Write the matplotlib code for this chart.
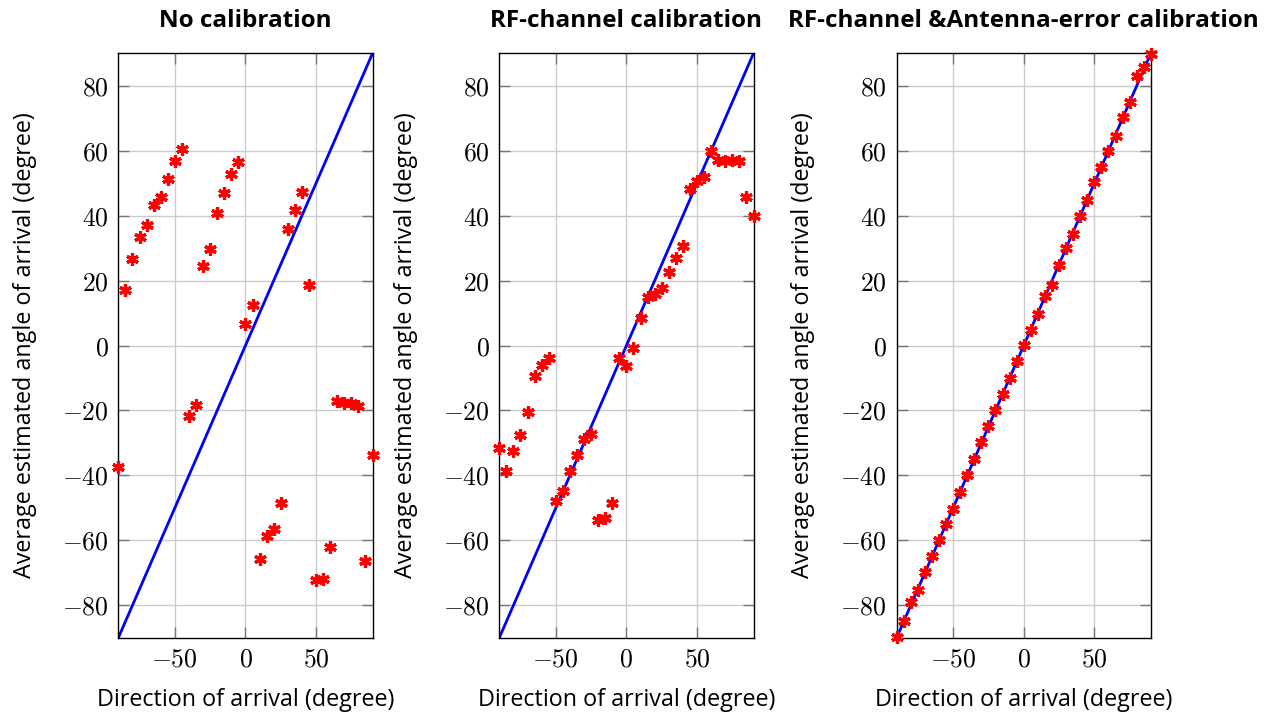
import matplotlib
matplotlib.use("Agg")
import matplotlib.pyplot as plt
from matplotlib.ticker import FuncFormatter, FixedLocator

plt.rcParams['mathtext.fontset'] = 'cm'
plt.rcParams['font.family'] = ['Open Sans', 'DejaVu Sans']

doa = [-90, -85, -80, -75, -70, -65, -60, -55, -50, -45, -40, -35, -30, -25, -20,
       -15, -10, -5, 0, 5, 10, 15, 20, 25, 30, 35, 40, 45, 50, 55, 60, 65, 70, 75,
       80, 85, 90]

est_none = [-37.4, 17.1, 26.6, 33.4, 37.1, 43.3, 45.8, 51.2, 56.8, 60.5, -21.7, -18.2,
            24.5, 29.6, 40.9, 46.9, 52.7, 56.4, 6.7, 12.5, -65.6, -58.5, -56.6, -48.6,
            35.8, 41.7, 47.3, 18.8, -72.2, -71.8, -61.9, -17.1, -17.6, -17.8, -18.5,
            -66.5, -33.7]

est_rf = [-31.7, -38.6, -32.4, -27.6, -20.5, -9.4, -6.1, -3.7, -48.0, -44.7, -38.6,
          -33.7, -28.7, -27.3, -53.7, -53.2, -48.6, -3.7, -6.3, -0.6, 8.4, 15.1, 15.8,
          17.7, 22.5, 27.0, 30.8, 48.2, 50.8, 51.8, 59.9, 57.1, 56.9, 57.1, 56.7, 45.8,
          39.9]

est_full = [-89.8, -84.8, -79.1, -75.3, -69.8, -64.9, -59.9, -55.1, -50.3, -45.1, -39.9,
            -34.8, -29.7, -24.9, -19.9, -14.8, -9.9, -4.7, 0.2, 4.7, 9.8, 15.4, 18.7,
            24.8, 29.9, 34.4, 39.8, 44.8, 50.4, 55.0, 59.9, 64.4, 70.5, 75.1, 83.1, 85.9,
            89.7]

ref_x = [-90, 90]
ref_y = [-90, 90]

titles = ["No calibration", "RF-channel calibration",
          "RF-channel &Antenna-error calibration"]
xlabel = "Direction of arrival (degree)"
ylabel = "Average estimated angle of arrival (degree)"
xticks = [-50, 0, 50]
yticks = [-80, -60, -40, -20, 0, 20, 40, 60, 80]

fig = plt.figure(figsize=(12.78, 7.13), dpi=100)
lefts = [0.0926, 0.3907, 0.7016]
series = [est_none, est_rf, est_full]

fmt = FuncFormatter(lambda v, p: r"$%d$" % v if v >= 0 else r"$-%d$" % (-v))

for left, title, est in zip(lefts, titles, series):
    ax = fig.add_axes([left, 0.1055, 0.1989, 0.8197])
    ax.plot(ref_x, ref_y, color='#0000ff', lw=2.0, zorder=2, clip_on=True)
    ax.plot(doa, est, linestyle='none', marker=(6, 2, 0), markersize=9,
            markeredgewidth=2.3, color='#ff0000', zorder=3, clip_on=False)
    ax.set_xlim(-90, 90)
    ax.set_ylim(-90, 90)
    ax.xaxis.set_major_locator(FixedLocator(xticks))
    ax.yaxis.set_major_locator(FixedLocator(yticks))
    ax.xaxis.set_major_formatter(fmt)
    ax.yaxis.set_major_formatter(fmt)
    ax.grid(True, color='#cccccc', lw=1.0, zorder=0)
    ax.set_axisbelow(True)
    ax.tick_params(direction='in', length=8, width=1.0, color='#777777',
                   top=True, right=True, labelsize=18.5, pad=7)
    for s in ax.spines.values():
        s.set_linewidth(1.0)
        s.set_color('black')
    ax.set_title(title, fontsize=17.5, fontweight='bold', pad=19)
    ax.set_xlabel(xlabel, fontsize=16.8, labelpad=11)
    ax.set_ylabel(ylabel, fontsize=16.8)
    ax.yaxis.set_label_coords(-0.32, 0.5)

fig.savefig("out.png", dpi=100)
